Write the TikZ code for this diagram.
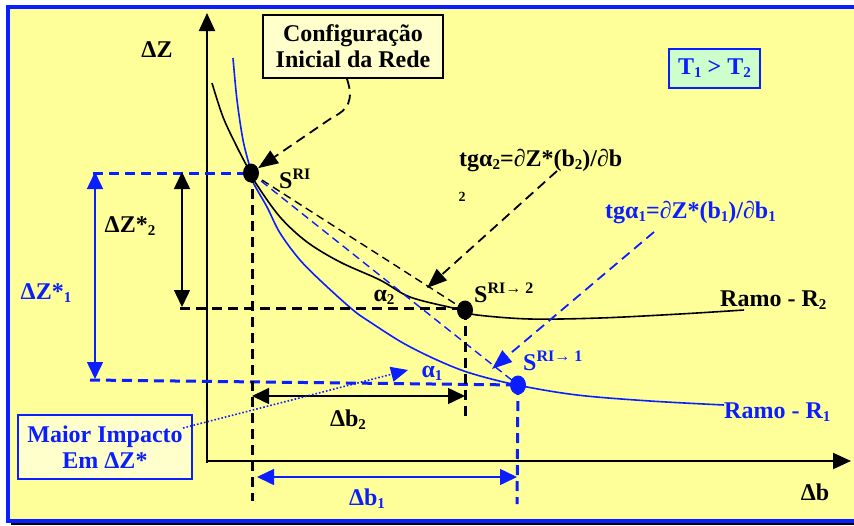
\documentclass[tikz,border=0pt]{standalone}
\usepackage{fontspec}
\setmainfont{Liberation Serif}
\usetikzlibrary{arrows.meta,shapes.geometric}
\definecolor{myblue}{RGB}{10,30,255}
\definecolor{bgyel}{RGB}{255,255,153}
\definecolor{boxyel}{RGB}{255,255,204}
\definecolor{boxgrn}{RGB}{204,255,204}
\newcommand\sbs[1]{\raisebox{-3pt}{\fontsize{15}{15}\selectfont #1}}
\newcommand\sps[1]{\raisebox{9pt}{\fontsize{16}{16}\selectfont #1}}
\tikzset{
  lbl/.style={font=\bfseries\fontsize{24}{26}\selectfont, inner sep=0pt},
  bluelbl/.style={lbl, text=myblue},
  tip/.style={-{Triangle[length=18pt,width=16pt]}},
  dtip/.style={{Triangle[length=17pt,width=16pt]}-{Triangle[length=17pt,width=16pt]}},
  ltip/.style={-{Triangle[length=20pt,width=15pt]}},
  bigdash/.style={dash pattern=on 10pt off 6pt, line width=3pt},
  thindash/.style={dash pattern=on 8pt off 5pt, line width=1.4pt},
  leaddash/.style={dash pattern=on 10pt off 6pt, line width=1.8pt},
  dotnode/.style={ellipse, inner sep=0pt, minimum width=16pt, minimum height=19pt},
}
\begin{document}
\begin{tikzpicture}[x=1pt,y=-1pt]
\useasboundingbox (0,0) rectangle (854,525);
% frame with shadow
\fill[black] (11,10) rectangle (880,525);
\fill[bgyel, draw=myblue, line width=4pt] (8,7) rectangle (880,521);
% axes
\draw[line width=2pt, tip] (207,463) -- (207,13);
\draw[line width=2pt, tip] (207,461) -- (851,461);
\node[lbl] (lz) at (157,50) {ΔZ};
\node[lbl] (lb) at (815,492) {Δb};
% curves
\draw[line width=1.6pt] plot[smooth, tension=0.55] coordinates {(212,83) (223,117) (237,147) (250,172) (257,185) (280,217) (307,242) (340,262) (380,280) (410,297) (453,308) (465,311) (477,315) (530,319) (600,318) (680,314) (744,310)};
\draw[myblue, line width=1.6pt] plot[smooth, tension=0.55] coordinates {(233,58) (237,100) (243,140) (250,168) (253,182) (267,207) (280,233) (300,260) (323,283) (353,310) (370,322) (403,343) (437,360) (470,373) (517,385) (577,395) (650,401) (724,405)};
% dots (positions)
\node[dotnode] (sri) at (251,173) {};
\node[dotnode] (s2) at (465,310) {};
\node[dotnode] (s1) at (518,385) {};
% chords
\draw[thindash] (sri.center) -- (s2.center);
\draw[thindash, myblue] (sri.center) -- (s1.center);
% dashed guide lines
\coordinate (h1a) at (93,173);
\coordinate (h2a) at (180,308);
\coordinate (h3a) at (90,380);
\coordinate (v1b) at (252,501);
\coordinate (v2b) at (465,419);
\coordinate (v3b) at (517,504);
\draw[bigdash, myblue] (h1a) -- (sri.center);
\draw[bigdash] (h2a) -- (463,308);
\draw[bigdash, myblue] (h3a) -- (s1.center);
\draw[bigdash] (252,173) -- (v1b);
\draw[bigdash] (s2.center) -- (v2b);
\draw[bigdash, myblue] (s1.center) -- (v3b);
% dimension arrows
\coordinate (dz2a) at (182,172);
\coordinate (dz2b) at (182,307);
\coordinate (dz1a) at (95,172);
\coordinate (dz1b) at (95,379);
\coordinate (db2a) at (252,396);
\coordinate (db2b) at (465,396);
\coordinate (db1a) at (257,477);
\coordinate (db1b) at (517,477);
\draw[line width=1.5pt, dtip] (dz2a) -- (dz2b);
\draw[line width=1.5pt, myblue, dtip] (dz1a) -- (dz1b);
\draw[line width=1.5pt, dtip] (db2a) -- (db2b);
\draw[line width=1.5pt, myblue, dtip] (db1a) -- (db1b);
\node[lbl] (ldz2) at (130,226) {ΔZ*\sbs{2}};
\node[bluelbl] (ldz1) at (46,293) {ΔZ*\sbs{1}};
\node[lbl] (ldb2) at (348,420) {Δb\sbs{2}};
\node[bluelbl] (ldb1) at (367,499) {Δb\sbs{1}};
\node[lbl] (la2) at (384,297) {α\sbs{2}};
\node[bluelbl] (la1) at (432,373) {α\sbs{1}};
% point labels
\node[lbl, anchor=base west] (lsri) at (279,188) {S\sps{RI}};
\node[lbl, anchor=base west] (ls2) at (474,302) {S\sps{RI→ 2}};
\node[bluelbl, anchor=base west] (ls1) at (523,370) {S\sps{RI→ 1}};
% tangent labels
\node[lbl, anchor=base west] (tga2) at (459,166) {tgα\sbs{2}=∂Z*(b\sbs{2})/∂b};
\node[font=\bfseries\fontsize{14}{14}\selectfont, inner sep=0pt] (tga2s) at (462,197) {2};
\node[bluelbl, anchor=base west] (tga1) at (605,218) {tgα\sbs{1}=∂Z*(b\sbs{1})/∂b\sbs{1}};
\node[lbl, anchor=base west] (r2) at (720,306) {Ramo - R\sbs{2}};
\node[bluelbl, anchor=base west] (r1) at (724,418) {Ramo - R\sbs{1}};
% boxes
\node[lbl, draw=black, line width=1.2pt, fill=boxyel, minimum width=180pt, minimum height=63pt, align=center] (cfg) at (353,46.5) {Configuração\\Inicial da Rede};
\node[bluelbl, draw=myblue, line width=1.2pt, fill=boxgrn, minimum width=91pt, minimum height=39pt] (tt) at (714.5,68.5) {T\sbs{1} > T\sbs{2}};
\node[bluelbl, draw=myblue, line width=1.2pt, fill=boxyel, minimum width=174pt, minimum height=64pt, align=center] (mi) at (105,447) {Maior Impacto\\Em ΔZ*};
% leaders
\coordinate (cfgs) at (347,79);
\draw[leaddash, ltip] (cfgs) .. controls (354,100) and (348,110) .. (333,117) -- (sri);
\coordinate (t2s) at (557,171);
\coordinate (t2e) at (427,288);
\draw[leaddash, ltip] (t2s) -- (t2e);
\coordinate (t1s) at (654,232);
\coordinate (t1e) at (492,369);
\draw[leaddash, myblue, ltip] (t1s) -- (t1e);
\coordinate (mis) at (183,428);
\coordinate (mie) at (408,370);
\draw[myblue, line width=1.6pt, dotted, -{Triangle[length=17pt,width=15pt]}] (mis) -- (mie);
% dots on top
\fill[black] (sri) ellipse (8pt and 9.5pt);
\fill[black] (s2) ellipse (8pt and 9.5pt);
\fill[myblue] (s1) ellipse (8pt and 9.5pt);
\end{tikzpicture}
\end{document}
